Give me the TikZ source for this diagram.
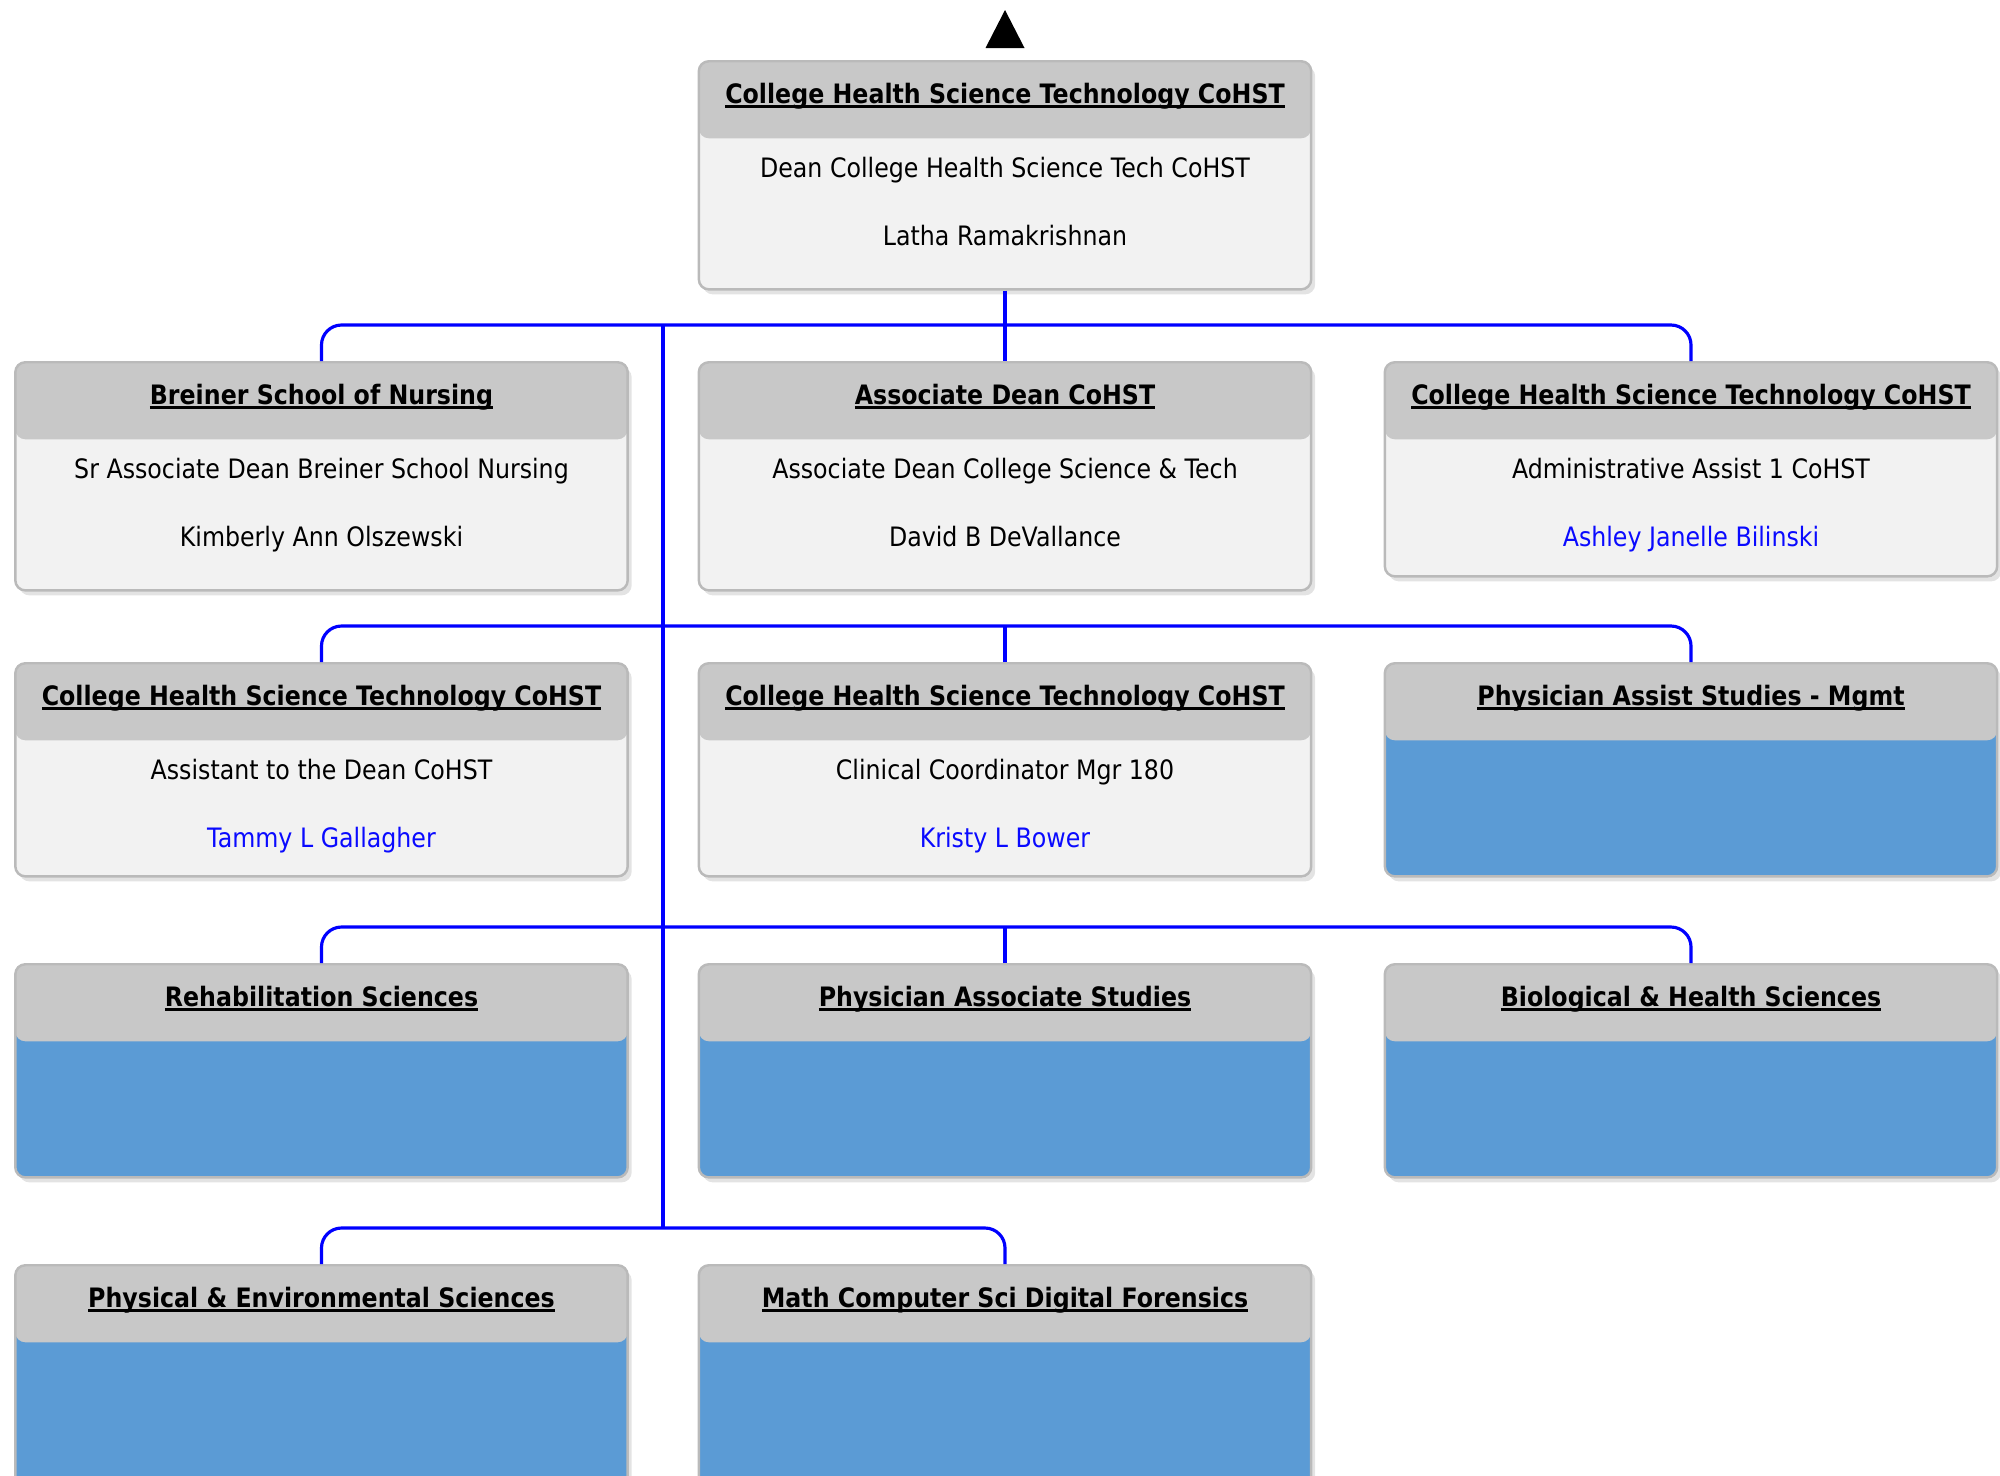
\documentclass[tikz,border=0pt]{standalone}
\usepackage{fontspec}
\setmainfont{DejaVu Sans}[FakeStretch=0.887]
\usetikzlibrary{positioning,shadows}
\definecolor{headgray}{RGB}{200,200,200}
\definecolor{bodygray}{RGB}{242,242,242}
\definecolor{vacant}{RGB}{91,155,213}
\definecolor{edgegray}{RGB}{186,186,186}
\definecolor{linkblue}{RGB}{0,0,255}
\definecolor{namecol}{RGB}{10,10,255}
\newcommand{\unitline}[1]{\leavevmode\setbox0\hbox{#1}\rlap{\rule[-1.3pt]{\wd0}{0.65pt}}\box0}
\tikzset{
  card/.style={rectangle,rounded corners=0.1cm,draw=edgegray,line width=0.7pt,fill=bodygray,
    minimum width=6.12cm,minimum height=2.28cm,inner sep=0pt,anchor=north,
    drop shadow={shadow xshift=0.04cm,shadow yshift=-0.05cm,opacity=0.22},
    path picture={\fill[headgray] (path picture bounding box.north west)
      rectangle ([yshift=-0.77cm]path picture bounding box.north east);}},
  vacantcard/.style={card,fill=vacant,minimum height=2.13cm},
  unittitle/.style={font=\bfseries\fontsize{7.6}{9}\selectfont,anchor=base},
  roletext/.style={font=\fontsize{7.6}{9}\selectfont,anchor=base},
  nametext/.style={roletext,text=namecol},
  link/.style={draw=linkblue,line width=0.9pt,rounded corners=0.2cm},
}

\begin{document}
\begin{tikzpicture}[x=0.01cm,y=-0.01cm]
  \useasboundingbox (0,0) rectangle (2000,1475);
  % dean
  \fill (985.5,48) -- (1024.5,48) -- (1005,10) -- cycle;
  \node[card] (dean) at (1005,60) {};
  \node[unittitle] (deanT) at ([yshift=-0.43cm]dean.north) {\unitline{College Health Science Technology CoHST}};
  \node[roletext] (deanR) at ([yshift=-1.17cm]dean.north) {Dean College Health Science Tech CoHST};
  \node[roletext] (deanN) at ([yshift=-1.85cm]dean.north) {Latha Ramakrishnan};
  % row 1
  \node[card] (nursing) at (321.5,361) {};
  \node[unittitle] (nursingT) at ([yshift=-0.43cm]nursing.north) {\unitline{Breiner School of Nursing}};
  \node[roletext] (nursingR) at ([yshift=-1.17cm]nursing.north) {Sr Associate Dean Breiner School Nursing};
  \node[roletext] (nursingN) at ([yshift=-1.85cm]nursing.north) {Kimberly Ann Olszewski};
  \node[card] (assoc) at (1005,361) {};
  \node[unittitle] (assocT) at ([yshift=-0.43cm]assoc.north) {\unitline{Associate Dean CoHST}};
  \node[roletext] (assocR) at ([yshift=-1.17cm]assoc.north) {Associate Dean College Science \& Tech};
  \node[roletext] (assocN) at ([yshift=-1.85cm]assoc.north) {David B DeVallance};
  \node[card,minimum height=2.14cm] (admin) at (1691,361) {};
  \node[unittitle] (adminT) at ([yshift=-0.43cm]admin.north) {\unitline{College Health Science Technology CoHST}};
  \node[roletext] (adminR) at ([yshift=-1.17cm]admin.north) {Administrative Assist 1 CoHST};
  \node[nametext] (adminN) at ([yshift=-1.85cm]admin.north) {Ashley Janelle Bilinski};
  % row 2
  \node[card,minimum height=2.13cm] (asst) at (321.5,662) {};
  \node[unittitle] (asstT) at ([yshift=-0.43cm]asst.north) {\unitline{College Health Science Technology CoHST}};
  \node[roletext] (asstR) at ([yshift=-1.17cm]asst.north) {Assistant to the Dean CoHST};
  \node[nametext] (asstN) at ([yshift=-1.85cm]asst.north) {Tammy L Gallagher};
  \node[card,minimum height=2.13cm] (clinic) at (1005,662) {};
  \node[unittitle] (clinicT) at ([yshift=-0.43cm]clinic.north) {\unitline{College Health Science Technology CoHST}};
  \node[roletext] (clinicR) at ([yshift=-1.17cm]clinic.north) {Clinical Coordinator Mgr 180};
  \node[nametext] (clinicN) at ([yshift=-1.85cm]clinic.north) {Kristy L Bower};
  \node[vacantcard] (pamgmt) at (1691,662) {};
  \node[unittitle] (pamgmtT) at ([yshift=-0.43cm]pamgmt.north) {\unitline{Physician Assist Studies - Mgmt}};
  % row 3
  \node[vacantcard] (rehab) at (321.5,963) {};
  \node[unittitle] (rehabT) at ([yshift=-0.43cm]rehab.north) {\unitline{Rehabilitation Sciences}};
  \node[vacantcard] (pastud) at (1005,963) {};
  \node[unittitle] (pastudT) at ([yshift=-0.43cm]pastud.north) {\unitline{Physician Associate Studies}};
  \node[vacantcard] (biohealth) at (1691,963) {};
  \node[unittitle] (biohealthT) at ([yshift=-0.43cm]biohealth.north) {\unitline{Biological \& Health Sciences}};
  % row 4
  \node[vacantcard,minimum height=2.4cm] (physenv) at (321.5,1264) {};
  \node[unittitle] (physenvT) at ([yshift=-0.43cm]physenv.north) {\unitline{Physical \& Environmental Sciences}};
  \node[vacantcard,minimum height=2.4cm] (mathcs) at (1005,1264) {};
  \node[unittitle] (mathcsT) at ([yshift=-0.43cm]mathcs.north) {\unitline{Math Computer Sci Digital Forensics}};
  % links
  \coordinate (trunktop) at (663,325);
  \coordinate (trunkend) at (663,1227);
  \draw[link] (dean.south) -- (assoc.north);
  \draw[link] (nursing.north) -- ++(0,-36) -| (admin.north);
  \draw[link,rounded corners=0pt] (trunktop) -- (trunkend);
  \draw[link] (asst.north) -- ++(0,-36) -| (pamgmt.north);
  \draw[link] (clinic.north) -- ++(0,-36);
  \draw[link] (rehab.north) -- ++(0,-36) -| (biohealth.north);
  \draw[link] (pastud.north) -- ++(0,-36);
  \draw[link] (physenv.north) -- ++(0,-36) -| (mathcs.north);
\end{tikzpicture}
\end{document}
